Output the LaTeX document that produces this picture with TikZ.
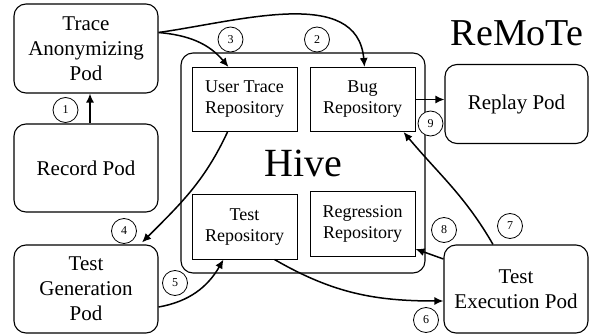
\documentclass[tikz,border=0pt]{standalone}
\usepackage{fontspec}
\setmainfont{Liberation Serif}
\usetikzlibrary{positioning, arrows.meta}

\begin{document}
\begin{tikzpicture}[x=1pt, y=-1pt,
    pod/.style={draw, line width=1.1pt, rounded corners=12pt, align=center,
        inner sep=0pt, font=\fontsize{21}{25}\selectfont},
    repo/.style={draw, line width=1pt, minimum width=105pt, minimum height=64pt,
        align=center, inner sep=0pt, font=\fontsize{18}{21}\selectfont},
    num/.style={draw, circle, fill=white, line width=0.8pt, minimum size=25pt,
        inner sep=0pt, font=\fontsize{12}{12}\selectfont},
    flow/.style={line width=1.5pt, -{Latex[length=9pt, width=8pt]}}]
    \useasboundingbox (0,0) rectangle (595,334);

    % the hive and its repositories
    \node[draw, line width=1.1pt, rounded corners=12pt, minimum width=244pt, minimum height=220pt,
        font=\fontsize{40}{40}\selectfont] (hive) at (303,163) {Hive};
    \node[repo] (user) at (244.5,99.5) {User Trace\\Repository};
    \node[repo] (bug) at (362.5,99.5) {Bug\\Repository};
    \node[repo] (testrepo) at (244.5,227) {Test\\Repository};
    \node[repo] (regr) at (362.5,224) {Regression\\Repository};

    % pods
    \node[pod, minimum width=144pt, minimum height=89pt] (anon) at (86,48.5) {Trace\\Anonymizing\\Pod};
    \node[pod, minimum width=144pt, minimum height=88pt] (record) at (86,168) {Record Pod};
    \node[pod, minimum width=144pt, minimum height=88pt] (gen) at (86,289) {Test\\Generation\\Pod};
    \node[pod, minimum width=143pt, minimum height=79pt] (replay) at (516.5,104) {Replay Pod};
    \node[pod, minimum width=144pt, minimum height=88pt] (exec) at (516,289) {Test\\Execution Pod};

    \node[font=\fontsize{38}{38}\selectfont] (remote) at (517,33) {ReMoTe};

    % flows
    \draw[flow] ([xshift=4pt]record.north) -- ([xshift=4pt]anon.south);
    \draw[flow] ([yshift=16pt]anon.east) to[out=8, in=95] ([xshift=2pt]bug.north);
    \draw[flow] ([yshift=16pt]anon.east) to[out=-5, in=130] ([xshift=-16pt]user.north);
    \draw[flow] ([xshift=-17pt]user.south) to[out=-115, in=45] ([xshift=56pt,yshift=2pt]gen.north);
    \draw[flow] ([yshift=-18pt]gen.east) to[out=10, in=-120] ([xshift=-21pt]testrepo.south);
    \draw[flow] ([xshift=30pt]testrepo.south) to[out=-30, in=180] ([yshift=-12pt]exec.west);
    \draw[flow] ([xshift=-23pt]exec.north) to[out=120, in=-50] ([xshift=-12pt]bug.south east);
    \draw[flow] ([yshift=30pt]exec.west) -- ([yshift=-25pt]regr.east);
    \draw[flow] (bug.east) -- (bug.east -| replay.west);

    % step numbers
    \node[num] (n1) at (65.5,110) {1};
    \node[num] (n2) at (317,39.5) {2};
    \node[num] (n3) at (230.5,39.5) {3};
    \node[num] (n4) at (124,231) {4};
    \node[num] (n5) at (175,283) {5};
    \node[num] (n6) at (426,320) {6};
    \node[num] (n7) at (510,226) {7};
    \node[num] (n8) at (444,230) {8};
    \node[num] (n9) at (430.5,123.5) {9};
\end{tikzpicture}
\end{document}
